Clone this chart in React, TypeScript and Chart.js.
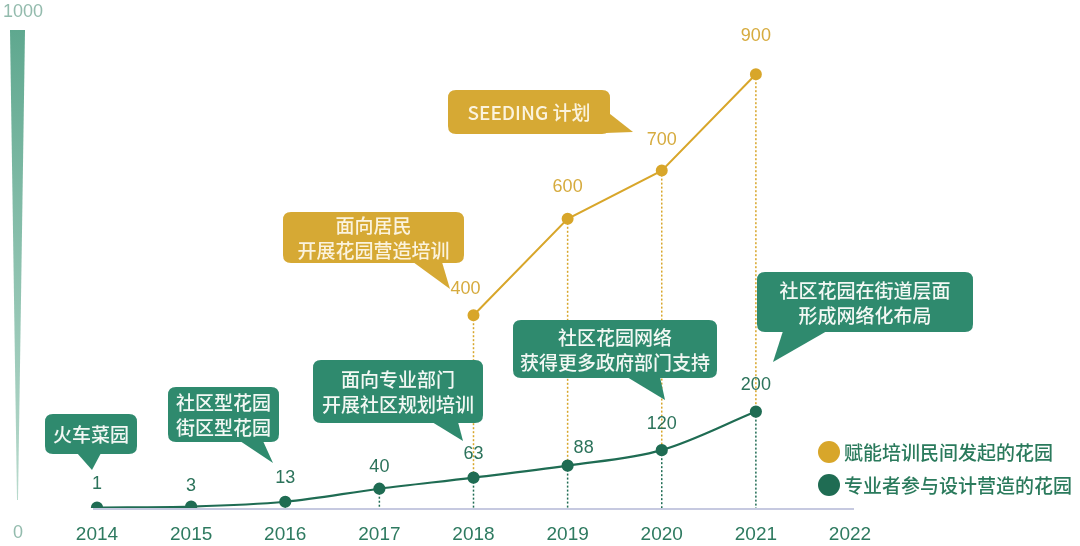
import React, { useEffect, useRef } from 'react';
import { Chart, registerables } from 'chart.js';

Chart.register(...registerables);

// ---- data ----
const years = ['2014', '2015', '2016', '2017', '2018', '2019', '2020', '2021', '2022'];
const proGardens = [1, 3, 13, 40, 63, 88, 120, 200, null];
const residentGardens = [null, null, null, null, 400, 600, 700, 900, null];
const seriesNames = ['赋能培训民间发起的花园', '专业者参与设计营造的花园'];
const yTickLabels = ['0', '1000'];

// ---- styles ----
const GREEN = '#1f6c53';
const GREEN_BUBBLE = '#2f8a6e';
const GOLD = '#d8a62a';
const GOLD_BUBBLE = '#d6a934';
const AXIS_TEXT = '#2e7a60';
const CJK = '"Noto Sans CJK SC", "Noto Sans", sans-serif';
const LAT = '"Liberation Sans", Arial, sans-serif';

// label offsets (pixels, relative to the point)
const greenLabelDx = [0, 0, 0, 0, 0, 16, 0, 0, 0];
const greenLabelDy = [-23, -21, -24, -22, -24, -18, -26, -27, 0];
const goldLabelDx = [0, 0, 0, 0, -8, 0, 0, 0, 0];
const goldLabelDy = [0, 0, 0, 0, -26, -32, -31, -38, 0];

// callout bubbles: box [x, y, w, h], tail [x1, y1, tipX, tipY, x2, y2]
const callouts = [
  { lines: ['火车菜园'], color: GREEN_BUBBLE, text: '#f3f8f4', box: [45, 414, 92, 40], tail: [77, 453, 92, 470, 101, 453] },
  { lines: ['社区型花园', '街区型花园'], color: GREEN_BUBBLE, text: '#f3f8f4', box: [168, 387, 111, 55], tail: [240, 441, 273, 463, 263, 441] },
  { lines: ['面向专业部门', '开展社区规划培训'], color: GREEN_BUBBLE, text: '#f3f8f4', box: [313, 360, 170, 63], tail: [432, 422, 463, 441, 458, 422] },
  { lines: ['面向居民', '开展花园营造培训'], color: GOLD_BUBBLE, text: '#fbf3de', box: [283, 212, 181, 51], tail: [413, 262, 450, 289, 442, 262] },
  { lines: ['SEEDING 计划'], color: GOLD_BUBBLE, text: '#fbf3de', box: [448, 90, 162, 44], tail: [605, 110, 633, 132, 605, 133] },
  { lines: ['社区花园网络', '获得更多政府部门支持'], color: GREEN_BUBBLE, text: '#f3f8f4', box: [513, 320, 204, 58], tail: [627, 377, 665, 400, 660, 377] },
  { lines: ['社区花园在街道层面', '形成网络化布局'], color: GREEN_BUBBLE, text: '#f3f8f4', box: [757, 272, 216, 60], tail: [783, 331, 773, 362, 827, 331] },
];

function roundRect(ctx: CanvasRenderingContext2D, x: number, y: number, w: number, h: number, r: number) {
  ctx.beginPath();
  ctx.moveTo(x + r, y);
  ctx.lineTo(x + w - r, y);
  ctx.quadraticCurveTo(x + w, y, x + w, y + r);
  ctx.lineTo(x + w, y + h - r);
  ctx.quadraticCurveTo(x + w, y + h, x + w - r, y + h);
  ctx.lineTo(x + r, y + h);
  ctx.quadraticCurveTo(x, y + h, x, y + h - r);
  ctx.lineTo(x, y + r);
  ctx.quadraticCurveTo(x, y, x + r, y);
  ctx.closePath();
}

const decorPlugin = {
  id: 'decor',
  beforeDatasetsDraw(chart: any) {
    const ctx: CanvasRenderingContext2D = chart.ctx;
    const { chartArea } = chart;
    const yS = chart.scales.y;
    ctx.save();
    // left wedge (y axis)
    const grad = ctx.createLinearGradient(0, 30, 0, 500);
    grad.addColorStop(0, '#5fa88f');
    grad.addColorStop(1, '#b9dacd');
    ctx.fillStyle = grad;
    ctx.beginPath();
    ctx.moveTo(10, 30);
    ctx.lineTo(25, 30);
    ctx.lineTo(18, 500);
    ctx.lineTo(17, 500);
    ctx.closePath();
    ctx.fill();
    // y labels
    ctx.fillStyle = '#93bbad';
    ctx.font = '18px ' + LAT;
    ctx.textAlign = 'center';
    ctx.textBaseline = 'middle';
    ctx.fillText(yTickLabels[1], 23, 12);
    ctx.fillText(yTickLabels[0], 18, 533);
    // x axis line
    ctx.strokeStyle = '#b3b7d6';
    ctx.lineWidth = 1.5;
    ctx.beginPath();
    ctx.moveTo(chartArea.left - 4, chartArea.bottom + 1);
    ctx.lineTo(chartArea.right + 4, chartArea.bottom + 1);
    ctx.stroke();
    // dotted drop lines
    const gMeta = chart.getDatasetMeta(1);
    const oMeta = chart.getDatasetMeta(0);
    ctx.lineWidth = 1.5;
    ctx.setLineDash([2, 2]);
    for (let i = 1; i < years.length; i++) {
      const gp = gMeta.data[i];
      if (proGardens[i] == null || !gp) continue;
      ctx.strokeStyle = GREEN;
      ctx.beginPath();
      ctx.moveTo(gp.x, gp.y);
      ctx.lineTo(gp.x, yS.getPixelForValue(0));
      ctx.stroke();
      const op = oMeta.data[i];
      if (residentGardens[i] != null && op) {
        ctx.strokeStyle = GOLD;
        ctx.beginPath();
        ctx.moveTo(op.x, op.y);
        ctx.lineTo(op.x, gp.y);
        ctx.stroke();
      }
    }
    ctx.setLineDash([]);
    ctx.restore();
  },
  afterDatasetsDraw(chart: any) {
    const ctx: CanvasRenderingContext2D = chart.ctx;
    ctx.save();
    ctx.textAlign = 'center';
    ctx.textBaseline = 'middle';
    // value labels
    ctx.font = '18px ' + LAT;
    const gMeta = chart.getDatasetMeta(1);
    const oMeta = chart.getDatasetMeta(0);
    proGardens.forEach((v, i) => {
      if (v == null) return;
      const p = gMeta.data[i];
      ctx.fillStyle = '#2c735b';
      ctx.fillText(String(v), p.x + greenLabelDx[i], p.y + greenLabelDy[i]);
    });
    residentGardens.forEach((v, i) => {
      if (v == null) return;
      const p = oMeta.data[i];
      ctx.fillStyle = '#d6ab3e';
      ctx.fillText(String(v), p.x + goldLabelDx[i], p.y + goldLabelDy[i]);
    });
    // callouts
    ctx.font = '500 19px ' + CJK;
    callouts.forEach((c) => {
      const [x, y, w, h] = c.box;
      const t = c.tail;
      ctx.fillStyle = c.color;
      roundRect(ctx, x, y, w, h, 8);
      ctx.fill();
      ctx.beginPath();
      ctx.moveTo(t[0], t[1]);
      ctx.lineTo(t[2], t[3]);
      ctx.lineTo(t[4], t[5]);
      ctx.closePath();
      ctx.fill();
      ctx.fillStyle = c.text;
      const lh = 25;
      const cy = y + h / 2 - ((c.lines.length - 1) * lh) / 2;
      c.lines.forEach((ln, k) => ctx.fillText(ln, x + w / 2, cy + k * lh + 1));
    });
    // legend
    const legendColors = [GOLD, GREEN];
    ctx.textAlign = 'left';
    seriesNames.forEach((name, k) => {
      const ly = 452 + k * 33;
      ctx.fillStyle = legendColors[k];
      ctx.beginPath();
      ctx.arc(829, ly, 11, 0, Math.PI * 2);
      ctx.fill();
      ctx.fillStyle = '#2a7a5c';
      ctx.fillText(name, 844, ly + 1);
    });
    ctx.restore();
  },
};

export default function App() {
  const ref = useRef<HTMLCanvasElement | null>(null);
  useEffect(() => {
    if (!ref.current) return;
    const chart = new Chart(ref.current, {
      type: 'line',
      data: {
        labels: years,
        datasets: [
          {
            label: seriesNames[0],
            data: residentGardens,
            borderColor: GOLD,
            backgroundColor: GOLD,
            borderWidth: 2,
            pointRadius: 5,
            pointHoverRadius: 5,
            tension: 0,
            spanGaps: false,
          },
          {
            label: seriesNames[1],
            data: proGardens,
            borderColor: GREEN,
            backgroundColor: GREEN,
            borderWidth: 2.2,
            pointRadius: 5,
            pointHoverRadius: 5,
            cubicInterpolationMode: 'monotone',
          },
        ],
      },
      options: {
        responsive: false,
        animation: false,
        layout: { padding: { left: 97, right: 230, top: 26, bottom: 0 } },
        plugins: { legend: { display: false }, tooltip: { enabled: false } },
        scales: {
          x: {
            offset: false,
            grid: { display: false, drawTicks: false },
            border: { display: false },
            ticks: { color: AXIS_TEXT, font: { family: LAT, size: 19 }, padding: 15, maxRotation: 0, autoSkip: false },
            afterFit: (s: any) => { s.height = 38; },
          },
          y: { display: false, min: 0, max: 1000 },
        },
      },
      plugins: [decorPlugin],
    } as any);
    return () => chart.destroy();
  }, []);
  return (
    <div style={{ position: 'absolute', left: 0, top: 0, width: 1080, height: 546, background: '#fff' }}>
      <canvas ref={ref} width={1080} height={546} style={{ display: 'block' }} />
    </div>
  );
}
